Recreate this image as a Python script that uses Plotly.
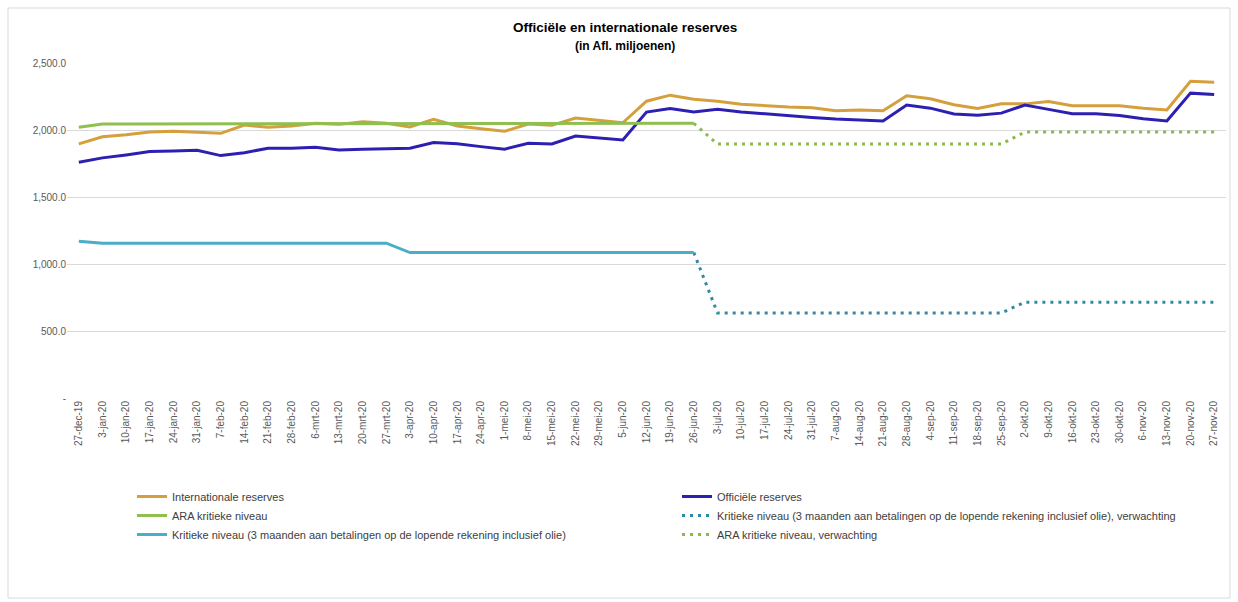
import plotly.graph_objects as go

dates = ["27-dec-19", "3-jan-20", "10-jan-20", "17-jan-20", "24-jan-20", "31-jan-20", "7-feb-20",
         "14-feb-20", "21-feb-20", "28-feb-20", "6-mrt-20", "13-mrt-20", "20-mrt-20", "27-mrt-20",
         "3-apr-20", "10-apr-20", "17-apr-20", "24-apr-20", "1-mei-20", "8-mei-20", "15-mei-20",
         "22-mei-20", "29-mei-20", "5-jun-20", "12-jun-20", "19-jun-20", "26-jun-20", "3-jul-20",
         "10-jul-20", "17-jul-20", "24-jul-20", "31-jul-20", "7-aug-20", "14-aug-20", "21-aug-20",
         "28-aug-20", "4-sep-20", "11-sep-20", "18-sep-20", "25-sep-20", "2-okt-20", "9-okt-20",
         "16-okt-20", "23-okt-20", "30-okt-20", "6-nov-20", "13-nov-20", "20-nov-20", "27-nov-20"]

internationale = [1896, 1950, 1965, 1985, 1990, 1983, 1975, 2037, 2020, 2030, 2050, 2042, 2061,
                  2050, 2022, 2079, 2030, 2010, 1990, 2045, 2035, 2089, 2069, 2054, 2215, 2260,
                  2230, 2215, 2193, 2181, 2171, 2166, 2143, 2149, 2143, 2255, 2233, 2188, 2161,
                  2195, 2195, 2213, 2181, 2181, 2181, 2163, 2149, 2364, 2357]

officiele = [1760, 1792, 1814, 1839, 1844, 1849, 1809, 1831, 1864, 1864, 1871, 1851, 1857,
             1861, 1864, 1906, 1898, 1876, 1857, 1901, 1896, 1955, 1941, 1926, 2134, 2161,
             2134, 2154, 2134, 2119, 2104, 2094, 2082, 2072, 2067, 2186, 2163, 2119, 2111,
             2126, 2186, 2154, 2121, 2121, 2109, 2084, 2067, 2275, 2265]

N = None
ara = [2020] + [2045] * 13 + [2050] * 13 + [N] * 22
ara_verwachting = [N] * 26 + [2050] + [1895] * 13 + [1985] * 9
kritiek = [1170] + [1155] * 13 + [1085] * 13 + [N] * 22
kritiek_verwachting = [N] * 26 + [1085] + [635] * 13 + [715] * 9

y_tickvals = [0, 500, 1000, 1500, 2000, 2500]
y_ticktext = ["-", "500.0", "1,000.0", "1,500.0", "2,000.0", "2,500.0"]

ORANGE = "#D49F3C"
BLUE = "#2E1FB3"
GREEN = "#8FBF4F"
CYAN = "#4BADC8"
TEAL = "#2F8AA6"
GREEN_DOT = "#8DB84E"

fig = go.Figure()
fig.add_trace(go.Scatter(x=dates, y=internationale, mode="lines", name="Internationale reserves",
                         line=dict(color=ORANGE, width=3)))
fig.add_trace(go.Scatter(x=dates, y=officiele, mode="lines", name="Officiële reserves",
                         line=dict(color=BLUE, width=3)))
fig.add_trace(go.Scatter(x=dates, y=ara, mode="lines", name="ARA kritieke niveau",
                         line=dict(color=GREEN, width=3)))
fig.add_trace(go.Scatter(x=dates, y=kritiek_verwachting, mode="lines",
                         name="Kritieke niveau (3 maanden aan betalingen op de lopende rekening inclusief olie), verwachting",
                         line=dict(color=TEAL, width=3, dash="3px,5px")))
fig.add_trace(go.Scatter(x=dates, y=kritiek, mode="lines",
                         name="Kritieke niveau (3 maanden aan betalingen op de lopende rekening inclusief olie)",
                         line=dict(color=CYAN, width=3)))
fig.add_trace(go.Scatter(x=dates, y=ara_verwachting, mode="lines", name="ARA kritieke niveau, verwachting",
                         line=dict(color=GREEN_DOT, width=3, dash="3px,5px")))

L, R, T, B = 67, 12, 63, 204
W, H = 1238, 602
pw = W - L - R
ph = H - T - B

def px_x(x):
    return (x - L) / pw

def px_y(y):
    return (H - B - y) / ph

fig.update_layout(
    width=W, height=H,
    margin=dict(l=L, r=R, t=T, b=B),
    paper_bgcolor="white", plot_bgcolor="white",
    font=dict(family="Liberation Sans, Arial, sans-serif", size=10, color="#595959"),
    showlegend=True,
    legend=dict(orientation="h", x=px_x(132), y=px_y(482), xanchor="left", yanchor="top",
                entrywidth=500, entrywidthmode="pixels",
                font=dict(size=11, color="#404040"), bgcolor="rgba(0,0,0,0)",
                traceorder="normal"),
    annotations=[
        dict(text="<b>Officiële en internationale reserves</b>", x=px_x(625), y=px_y(28),
             xref="paper", yref="paper", showarrow=False, xanchor="center", yanchor="middle",
             font=dict(size=13.5, color="#000000")),
        dict(text="<b>(in Afl. miljoenen)</b>", x=px_x(625), y=px_y(46),
             xref="paper", yref="paper", showarrow=False, xanchor="center", yanchor="middle",
             font=dict(size=12, color="#000000")),
    ],
    shapes=[
        dict(type="rect", xref="paper", yref="paper", x0=px_x(8), x1=px_x(1230),
             y0=px_y(598), y1=px_y(8), line=dict(color="#D9D9D9", width=1), layer="below"),
    ],
)

fig.update_xaxes(type="category", range=[-0.5, 48.5], tickangle=-90, showgrid=False,
                 showline=False, zeroline=False, ticks="", automargin=False,
                 tickfont=dict(size=10, color="#595959"))
fig.update_yaxes(range=[0, 2500], tickvals=y_tickvals, ticktext=y_ticktext, automargin=False,
                 showgrid=True, gridcolor="#D9D9D9", gridwidth=1, zeroline=False,
                 showline=False, ticks="", tickfont=dict(size=10, color="#595959"))

fig.write_html("out.html")
